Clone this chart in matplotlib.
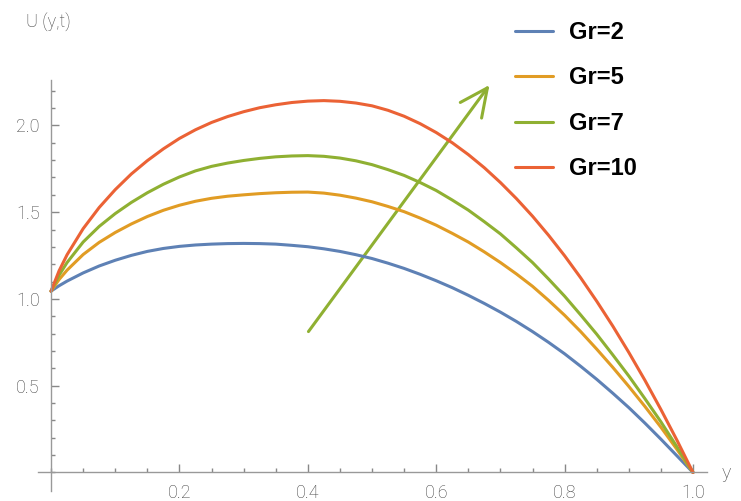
import numpy as np
import matplotlib.pyplot as plt
from matplotlib.patches import FancyArrowPatch

# y positions across the channel
y = [0.0, 0.0125, 0.025, 0.05, 0.075, 0.1, 0.125, 0.15, 0.175, 0.2, 0.225,
     0.25, 0.275, 0.3, 0.325, 0.35, 0.375, 0.4, 0.425, 0.45, 0.475,
     0.5, 0.525, 0.55, 0.575, 0.6, 0.625, 0.65, 0.675, 0.7, 0.725,
     0.75, 0.775, 0.8, 0.825, 0.85, 0.875, 0.9, 0.925, 0.95, 0.975, 1.0]

# velocity profiles
u_gr2 = [1.045, 1.076, 1.103, 1.150, 1.190, 1.223, 1.251, 1.274, 1.291, 1.303, 1.311,
         1.316, 1.319, 1.320, 1.319, 1.316, 1.309, 1.301, 1.289, 1.274, 1.255,
         1.233, 1.206, 1.176, 1.142, 1.105, 1.065, 1.021, 0.974, 0.924, 0.870,
         0.812, 0.750, 0.684, 0.612, 0.537, 0.457, 0.374, 0.285, 0.192, 0.096, 0.0]
u_gr5 = [1.045, 1.112, 1.166, 1.256, 1.326, 1.383, 1.432, 1.475, 1.511, 1.540, 1.563,
         1.580, 1.592, 1.600, 1.607, 1.612, 1.615, 1.616, 1.610, 1.598, 1.581,
         1.560, 1.533, 1.503, 1.466, 1.425, 1.378, 1.328, 1.271, 1.210, 1.144,
         1.073, 0.992, 0.906, 0.812, 0.711, 0.606, 0.496, 0.381, 0.261, 0.133, 0.0]
u_gr7 = [1.045, 1.137, 1.210, 1.328, 1.418, 1.492, 1.556, 1.612, 1.661, 1.703, 1.738,
         1.764, 1.783, 1.798, 1.810, 1.819, 1.824, 1.826, 1.822, 1.812, 1.796,
         1.774, 1.745, 1.712, 1.671, 1.625, 1.570, 1.512, 1.445, 1.375, 1.294,
         1.210, 1.115, 1.016, 0.908, 0.797, 0.678, 0.556, 0.426, 0.292, 0.148, 0.0]
u_gr10 = [1.045, 1.162, 1.255, 1.405, 1.527, 1.630, 1.720, 1.797, 1.865, 1.925, 1.975,
          2.017, 2.051, 2.079, 2.102, 2.119, 2.132, 2.140, 2.143, 2.139, 2.129,
          2.113, 2.087, 2.053, 2.010, 1.959, 1.900, 1.832, 1.756, 1.671, 1.578,
          1.477, 1.367, 1.249, 1.122, 0.987, 0.844, 0.692, 0.532, 0.363, 0.186, 0.0]

labels = ['Gr=2', 'Gr=5', 'Gr=7', 'Gr=10']
colors = ['#5E81B5', '#E19C24', '#8FB032', '#EB6235']

# arrow showing increasing Gr
arrow_start = (0.401, 0.812)
arrow_end = (0.683, 2.233)

fig = plt.figure(figsize=(7.41, 5.01), dpi=100)
ax = fig.add_axes([0.0513, 0.02, 0.9028, 0.8204])

for u, lab, c in zip([u_gr2, u_gr5, u_gr7, u_gr10], labels, colors):
    ax.plot(y, u, color=c, lw=2.2, label=lab, solid_capstyle='round',
            solid_joinstyle='round')

ax.set_xlim(-0.0203, 1.0218)
ax.set_ylim(-0.1066, 2.262)

# Mathematica-like axes through the origin
for s in ['top', 'right']:
    ax.spines[s].set_visible(False)
ax.spines['left'].set_position(('data', 0))
ax.spines['bottom'].set_position(('data', 0))
for s in ['left', 'bottom']:
    ax.spines[s].set_color('#999999')
    ax.spines[s].set_linewidth(1.0)

ax.set_xticks([0.2, 0.4, 0.6, 0.8, 1.0])
ax.set_xticklabels(['0.2', '0.4', '0.6', '0.8', '1.0'])
ax.set_xticks(np.arange(0, 1.001, 0.05), minor=True)
ax.set_yticks([0.5, 1.0, 1.5, 2.0])
ax.set_yticklabels(['0.5', '1.0', '1.5', '2.0'])
ax.set_yticks(np.arange(0, 2.21, 0.1), minor=True)
ax.tick_params(which='both', direction='in', color='#888888', width=1.0,
               labelcolor='#444444', labelsize=13)
ax.tick_params(which='major', length=6, pad=8)
ax.tick_params(which='minor', length=3)
for t in ax.get_xticklabels() + ax.get_yticklabels():
    t.set_family(['Roboto', 'DejaVu Sans'])
    t.set_fontweight('light')

fig.text(26 / 741, 1 - 27 / 501, 'U (y,t)', color='#444444', fontsize=13,
         family=['Roboto', 'DejaVu Sans'], fontweight='light', va='baseline', ha='left')
fig.text(726 / 741, 1 - 478 / 501, 'y', color='#444444', fontsize=14,
         family=['Roboto', 'DejaVu Sans'], fontweight='light', va='baseline', ha='center')

arrow = FancyArrowPatch(arrow_start, arrow_end,
                        arrowstyle='->,head_length=20,head_width=9.5',
                        mutation_scale=1, shrinkA=0, shrinkB=0,
                        color='#8FB032', lw=2.2)
ax.add_patch(arrow)

leg = ax.legend(loc='upper left', bbox_to_anchor=(515 / 741, 1 - 21 / 501),
                bbox_transform=fig.transFigure, frameon=False,
                prop={'family': 'Liberation Sans', 'weight': 'bold', 'size': 17},
                handlelength=1.6, handletextpad=0.7, labelspacing=0.95,
                borderpad=0, borderaxespad=0)

fig.savefig('out.png', dpi=100)
